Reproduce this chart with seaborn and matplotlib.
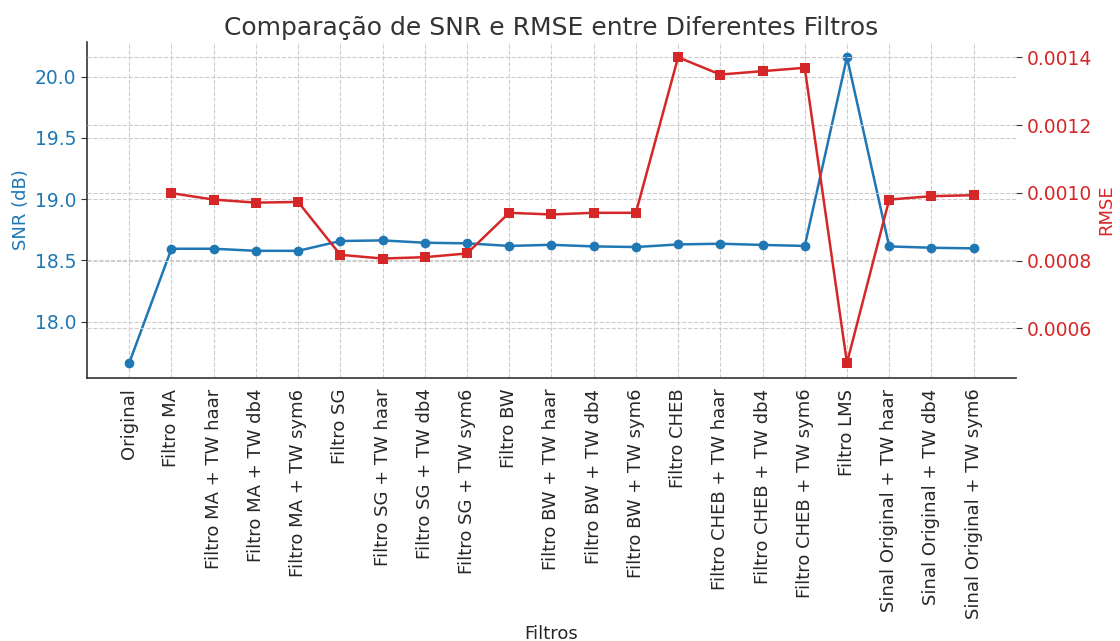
import numpy as np
import pandas as pd
import seaborn as sns
import matplotlib.pyplot as plt

# valores
filtros = [
    "Original", "Filtro MA", "Filtro MA + TW haar", "Filtro MA + TW db4", "Filtro MA + TW sym6",
    "Filtro SG", "Filtro SG + TW haar", "Filtro SG + TW db4", "Filtro SG + TW sym6",
    "Filtro BW", "Filtro BW + TW haar", "Filtro BW + TW db4", "Filtro BW + TW sym6",
    "Filtro CHEB", "Filtro CHEB + TW haar", "Filtro CHEB + TW db4", "Filtro CHEB + TW sym6",
    "Filtro LMS", "Sinal Original + TW haar", "Sinal Original + TW db4", "Sinal Original + TW sym6",
]
snr = [17.663, 18.595, 18.595, 18.578, 18.578, 18.658, 18.663, 18.644, 18.639,
       18.618, 18.627, 18.614, 18.609, 18.630, 18.636, 18.626, 18.618,
       20.158, 18.614, 18.603, 18.598]
rmse = [np.nan, 0.000999, 0.000980, 0.000971, 0.000973, 0.000817, 0.000806, 0.000810, 0.000821,
        0.000941, 0.000936, 0.000941, 0.000941, 0.001400, 0.001349, 0.001359, 0.001369,
        0.000498, 0.000980, 0.000990, 0.000993]

df = pd.DataFrame({"Filtro": filtros, "SNR": snr, "RMSE": rmse})

sns.set_style("white")
plt.rcParams["font.family"] = ["DejaVu Sans"]

blue = "#1f77b4"
red = "#d62728"

fig, ax1 = plt.subplots(figsize=(11.2, 6.41), dpi=100)
fig.subplots_adjust(left=0.0777, right=0.907, top=0.9345, bottom=0.41)

sns.lineplot(data=df, x="Filtro", y="SNR", sort=False, color=blue, marker="o",
             markersize=7, markeredgewidth=0, linewidth=1.8, ax=ax1)
ax1.set_xlabel("Filtros", fontsize=13)
ax1.set_ylabel("SNR (dB)", color=blue, fontsize=13)
ax1.tick_params(axis="y", labelcolor=blue, labelsize=13.5, length=4, color="#333333")
ax1.tick_params(axis="x", labelsize=13, rotation=90, length=4, color="#333333")
ax1.grid(True, linestyle="--", color="#cccccc", linewidth=0.8)
ax1.set_axisbelow(True)

ax2 = ax1.twinx()
sns.lineplot(data=df, x="Filtro", y="RMSE", sort=False, color=red, marker="s",
             markersize=7, markeredgewidth=0, linewidth=1.8, ax=ax2)
ax2.set_ylabel("RMSE", color=red, fontsize=13)
ax2.tick_params(axis="y", labelcolor=red, labelsize=13.5, length=4, color="#333333")
ax2.grid(True, axis="y", linestyle="--", color="#cccccc", linewidth=0.8)
ax2.set_axisbelow(True)

for side in ["top", "right"]:
    ax1.spines[side].set_visible(False)
for side in ["top", "right", "left", "bottom"]:
    ax2.spines[side].set_visible(False)
for side in ["left", "bottom"]:
    ax1.spines[side].set_color("#333333")
    ax1.spines[side].set_linewidth(1.2)

ax1.set_title("Comparação de SNR e RMSE entre Diferentes Filtros", fontsize=18,
              color="#333333", pad=5)

fig.savefig("out.png", dpi=100)
